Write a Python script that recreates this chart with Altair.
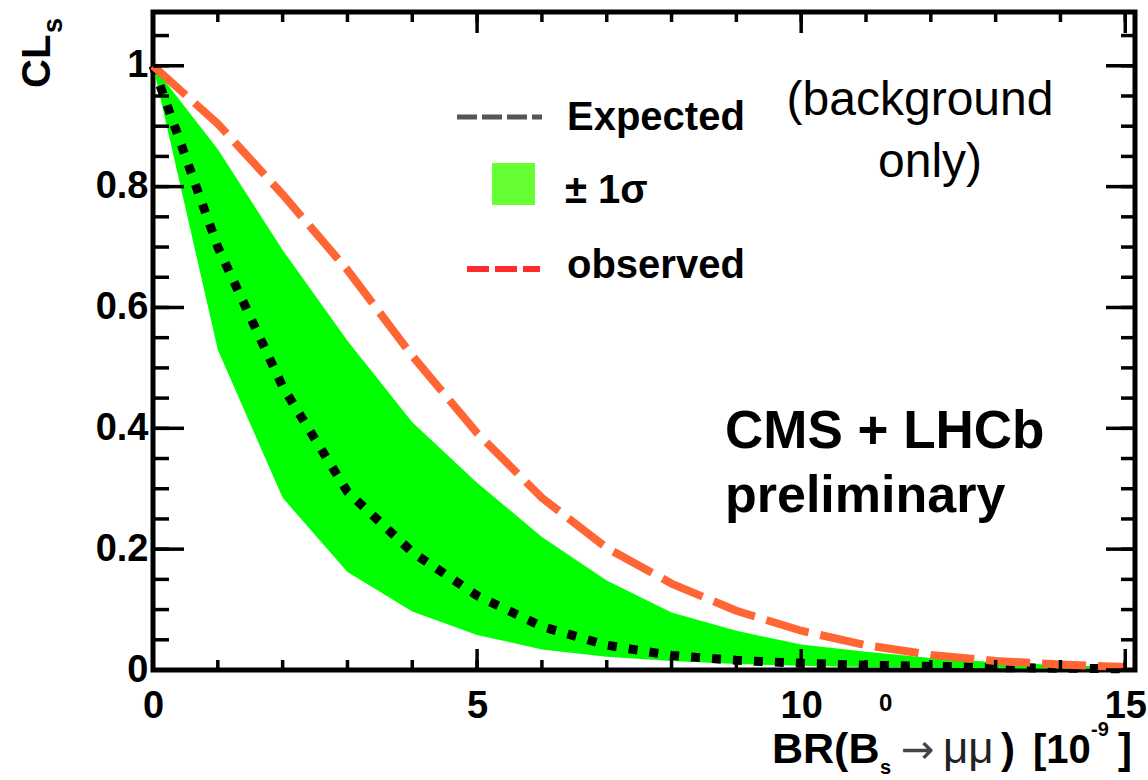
import altair as alt
import pandas as pd

# ---- data ----
br = list(range(16))
band_hi = [1.0, 0.862, 0.695, 0.545, 0.41, 0.31, 0.22, 0.148, 0.095, 0.065, 0.042, 0.03, 0.02, 0.013, 0.008, 0.005]
band_lo = [1.0, 0.53, 0.285, 0.162, 0.097, 0.058, 0.034, 0.022, 0.015, 0.010, 0.007, 0.005, 0.004, 0.003, 0.002, 0.0015]
expected = [1.0, 0.70, 0.469, 0.295, 0.195, 0.123, 0.072, 0.041, 0.024, 0.016, 0.011, 0.008, 0.006, 0.004, 0.003, 0.002]
observed = [1.0, 0.904, 0.787, 0.662, 0.52, 0.392, 0.285, 0.202, 0.143, 0.098, 0.065, 0.041, 0.025, 0.015, 0.009, 0.005]

x_labels = [0, 5, 10, 15]
y_labels = [0, 0.2, 0.4, 0.6, 0.8, 1.0]
x_minor = list(range(16))
y_minor = [round(i * 0.05, 2) for i in range(22)]

W, H = 982, 658
L, T = 153, 12
FONT = "Liberation Sans"

df = pd.DataFrame({"br": br, "hi": band_hi, "lo": band_lo, "exp": expected, "obs": observed})

xs = alt.Scale(domain=[0, 15.15], nice=False, zero=False)
ys = alt.Scale(domain=[0, 1.089], nice=False)
xaxis = alt.Axis(values=x_labels, format="~g", title=None, ticks=False, domain=False, grid=False,
                 labelFont=FONT, labelFontSize=38, labelFontWeight="bold", labelPadding=17,
                 labelColor="black", labelFlush=False)
yaxis = alt.Axis(values=y_labels, format="~g", title=None, ticks=False, domain=False, grid=False,
                 labelFont=FONT, labelFontSize=38, labelFontWeight="bold", labelPadding=5,
                 labelColor="black")


def X(f):
    return alt.X(f"{f}:Q", scale=xs, axis=xaxis)


def Y(f):
    return alt.Y(f"{f}:Q", scale=ys, axis=yaxis)


base = alt.Chart(df)
band = base.mark_area(color="#00ff00", opacity=1).encode(x=X("br"), y=Y("hi"), y2="lo:Q")
exp_line = base.mark_line(color="black", strokeWidth=9, strokeDash=[9, 12], strokeCap="butt").encode(
    x=X("br"), y=Y("exp"))
obs_line = base.mark_line(color="#ff6633", strokeWidth=8, strokeDash=[44, 12], strokeCap="butt").encode(
    x=X("br"), y=Y("obs"))

# ticks drawn inside the frame (ROOT style)
xt = alt.Chart(pd.DataFrame({"v": x_minor}))
xT = alt.Chart(pd.DataFrame({"v": x_labels}))
yt = alt.Chart(pd.DataFrame({"v": y_minor}))
yT = alt.Chart(pd.DataFrame({"v": y_labels}))
tk = dict(color="black", strokeWidth=3.5)
ticks = [
    xt.mark_rule(**tk).encode(x=X("v"), y=alt.value(H), y2=alt.value(H - 10)),
    xT.mark_rule(**tk).encode(x=X("v"), y=alt.value(H), y2=alt.value(H - 21)),
    xt.mark_rule(**tk).encode(x=X("v"), y=alt.value(0), y2=alt.value(10)),
    xT.mark_rule(**tk).encode(x=X("v"), y=alt.value(0), y2=alt.value(21)),
    yt.mark_rule(**tk).encode(y=Y("v"), x=alt.value(0), x2=alt.value(16)),
    yT.mark_rule(**tk).encode(y=Y("v"), x=alt.value(0), x2=alt.value(31)),
    yt.mark_rule(**tk).encode(y=Y("v"), x=alt.value(W), x2=alt.value(W - 14)),
    yT.mark_rule(**tk).encode(y=Y("v"), x=alt.value(W), x2=alt.value(W - 29)),
]

one = alt.Data(values=[{}])


def txt(s, x, y, size, weight="normal", align="left", angle=0, color="black", font=FONT):
    kw = dict(text=s, fontSize=size, fontWeight=weight, align=align, baseline="alphabetic",
              color=color, font=font)
    if angle:
        kw["angle"] = angle
    return alt.Chart(one).mark_text(**kw).encode(x=alt.value(x - L), y=alt.value(y - T))


def hline(x1, x2, y, color, width, dash):
    return alt.Chart(one).mark_rule(color=color, strokeWidth=width, strokeDash=dash, strokeCap="butt").encode(
        x=alt.value(x1 - L), x2=alt.value(x2 - L), y=alt.value(y - T))


legend = [
    hline(457, 542, 117, "#555555", 5, [20, 5]),
    alt.Chart(one).mark_rect(color="#66ff33").encode(
        x=alt.value(492 - L), x2=alt.value(535 - L), y=alt.value(163 - T), y2=alt.value(205 - T)),
    hline(467, 540, 269, "#ff2a2a", 6, [22, 6]),
    txt("Expected", 567, 130, 40, "bold"),
    txt("\u00b1 1\u03c3", 565, 203, 40, "bold"),
    txt("observed", 567, 278, 40, "bold"),
]

notes = [
    txt("(background", 920, 115, 48, align="center"),
    txt("only)", 930, 177, 48, align="center"),
    txt("CMS + LHCb", 725, 448, 53, "bold"),
    txt("preliminary", 725, 512, 52, "bold"),
    # y title CL_s
    txt("CL", 50, 88, 40, "bold", angle=270),
    txt("s", 62, 33, 27, "bold", angle=270),
    # x title BR(B_s^0 -> mu mu) [10^-9]
    txt("BR(B", 772, 763, 43, "bold"),
    txt("0", 879, 711, 24, "bold"),
    txt("s", 880, 774, 20, "bold"),
    txt("\u2192", 901, 763, 40, color="#444444", font="DejaVu Sans"),
    txt("\u03bc\u03bc", 943, 763, 44, color="#222222"),
    txt(")", 1001, 763, 42, "bold"),
    txt("[10", 1033, 763, 40, "bold"),
    txt("-9", 1091, 736, 20, "bold"),
    txt("]", 1118, 763, 42, "bold"),
]

chart = alt.layer(band, exp_line, obs_line, *ticks, *legend, *notes).properties(
    width=W, height=H,
    autosize=alt.AutoSizeParams(type="none"),
    padding={"left": L, "top": T, "right": 1148 - L - W, "bottom": 780 - T - H},
    background="white",
).configure_view(stroke="black", strokeWidth=5)

chart.save("out.html", embed_options={"renderer": "svg", "actions": False})
